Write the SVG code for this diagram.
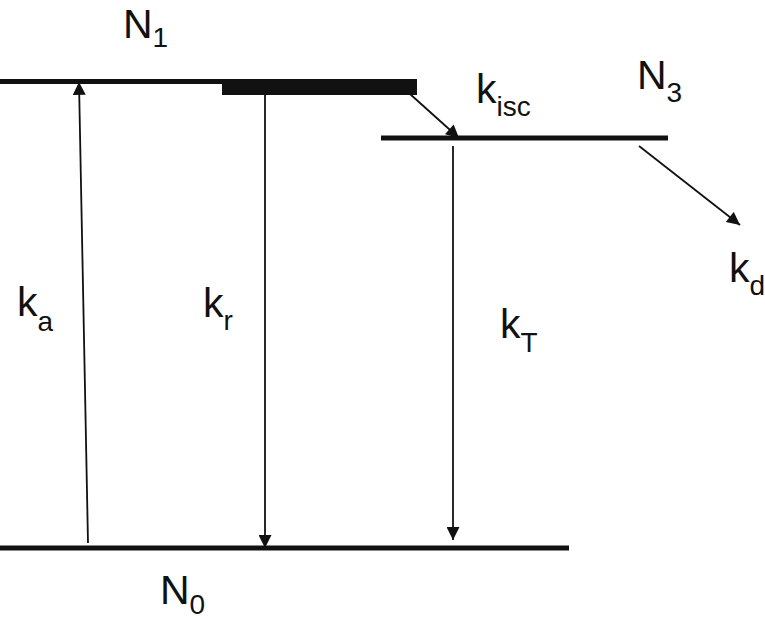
<svg xmlns="http://www.w3.org/2000/svg" width="765" height="619" viewBox="0 0 765 619">
<style>
text{font-family:"Liberation Sans",Arial,sans-serif;fill:#111}
.m{font-size:41px}
.s{font-size:28px}
.lvl{stroke:#111;stroke-width:5;fill:none}
.c{stroke:#111;stroke-width:1.8;fill:none}
</style>
<defs>
<marker id="ah" viewBox="0 0 10 10" refX="10" refY="5" markerWidth="15" markerHeight="13" markerUnits="userSpaceOnUse" orient="auto">
<path d="M0,0 L10,5 L0,10 z" fill="#111"/>
</marker>
</defs>
<rect width="765" height="619" fill="#fff"/>
<g id="N1">
<line class="lvl" x1="0" y1="81.5" x2="417" y2="81.5"/>
<rect x="222" y="79" width="195" height="16" fill="#111"/>
<text class="m" x="123" y="38">N<tspan class="s" dy="9">1</tspan></text>
</g>
<g id="N3">
<line class="lvl" x1="381" y1="138" x2="668" y2="138"/>
<text class="m" x="637" y="89">N<tspan class="s" dy="13">3</tspan></text>
</g>
<g id="N0">
<line class="lvl" x1="0" y1="548" x2="569" y2="548"/>
<text class="m" x="160" y="604">N<tspan class="s" dy="10">0</tspan></text>
</g>
<g id="connectors">
<line class="c" x1="88" y1="543" x2="79" y2="82" marker-end="url(#ah)"/>
<line class="c" x1="265" y1="95" x2="265" y2="548" marker-end="url(#ah)"/>
<line class="c" x1="410" y1="94" x2="459" y2="138" marker-end="url(#ah)"/>
<line class="c" x1="453" y1="146" x2="453" y2="540" marker-end="url(#ah)"/>
<line class="c" x1="639" y1="146" x2="740" y2="225" marker-end="url(#ah)"/>
</g>
<g id="labels">
<text class="m" x="17" y="316">k<tspan class="s" dy="15">a</tspan></text>
<text class="m" x="203" y="317">k<tspan class="s" dy="13">r</tspan></text>
<text class="m" x="500" y="338">k<tspan class="s" dy="14">T</tspan></text>
<text class="m" x="476" y="103">k<tspan class="s" dy="13">isc</tspan></text>
<text class="m" x="729" y="282">k<tspan class="s" dy="13">d</tspan></text>
</g>
</svg>
